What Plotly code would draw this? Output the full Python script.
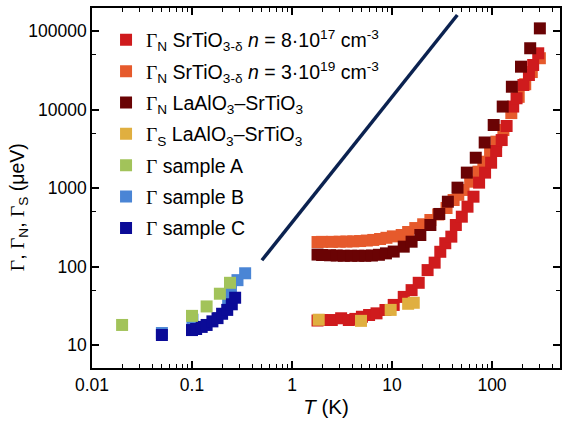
import plotly.graph_objects as go

# ---- data ----
T_red = [1.8, 2.0, 2.5, 3.1, 3.7, 4.3, 5.0, 5.9, 7.0, 8.6, 10.4, 13.1, 15.7, 18.5, 22.7, 26.7, 30.4, 34.1, 39.2, 43.5, 49.9, 56.9, 65.3, 74.3, 85.3, 98, 110, 125, 140, 163, 176, 206, 234, 258, 290]
G_red = [20.5, 20.8, 20.8, 21.9, 20.8, 21.5, 22.9, 24.1, 25.3, 27.9, 32.4, 41, 50, 62, 90, 112, 154, 198, 240, 338, 431, 578, 775, 1170, 1570, 2100, 2960, 4080, 6160, 10900, 13900, 20500, 27500, 36900, 52000]

T_orange = [1.8, 2.0, 2.5, 3.0, 3.5, 4.1, 4.8, 5.6, 6.5, 7.6, 8.8, 10.2, 12.5, 14.5, 17.1, 20.5, 24.2, 29, 35.1, 41.3, 46, 51.9, 60.5, 73.2, 82, 95.7, 110.7, 130, 156, 185, 215, 250, 301]
G_orange = [205, 206, 206, 207, 208, 209, 211, 214, 218, 224, 232, 242, 252, 275, 309, 345, 391, 460, 556, 703, 820, 944, 1203, 1614, 2163, 2900, 3890, 5480, 9000, 14500, 21000, 30000, 45000]

T_lao_n = [1.8, 2.0, 2.4, 2.8, 3.3, 3.9, 4.6, 5.4, 6.3, 7.4, 8.7, 10.4, 13.1, 15.7, 19.2, 24.2, 29.7, 36.2, 45.2, 56, 68.8, 84.5, 104, 128, 158, 195, 241, 301]
G_lao_n = [142, 140, 139, 138, 137, 137, 137, 137, 138, 141, 147, 155, 179, 207, 252, 338, 467, 669, 1010, 1570, 2430, 3800, 6350, 10900, 19500, 35100, 60300, 108000]

T_lao_s = [1.85, 4.9, 9.7, 14.5, 16.5]
G_lao_s = [21, 20.3, 28, 33.5, 34.5]

T_A = [0.02, 0.1, 0.14, 0.19, 0.24]
G_A = [18, 23.5, 31, 45, 62]
T_B = [0.05, 0.101, 0.23, 0.245, 0.285, 0.34]
G_B = [14.2, 21, 38, 50, 67, 82]
T_C = [0.05, 0.1, 0.11, 0.125, 0.14, 0.16, 0.18, 0.2, 0.225, 0.25, 0.27]
G_C = [13.4, 15.5, 16, 17, 18, 20, 22, 25, 28, 33, 40]

T_line = [0.5, 45]
G_line = [120, 160000]

x_ticks = [0.01, 0.1, 1, 10, 100]
x_ticktext = ["0.01", "0.1", "1", "10", "100"]
y_ticks = [10, 100, 1000, 10000, 100000]
y_ticktext = ["10", "100", "1000", "10000", "100000"]

# ---- style ----
SANS = "Liberation Sans, Arial, sans-serif"
G = '<span style="font-family:Liberation Serif">Γ</span>'

names = {
    "red": G + "<sub>N</sub> SrTiO<sub>3-δ</sub> <i>n</i> = 8·10<sup>17</sup> cm<sup>-3</sup>",
    "orange": G + "<sub>N</sub> SrTiO<sub>3-δ</sub> <i>n</i> = 3·10<sup>19</sup> cm<sup>-3</sup>",
    "lao_n": G + "<sub>N</sub> LaAlO<sub>3</sub>–SrTiO<sub>3</sub>",
    "lao_s": G + "<sub>S</sub> LaAlO<sub>3</sub>–SrTiO<sub>3</sub>",
    "A": G + " sample A",
    "B": G + " sample B",
    "C": G + " sample C",
}
colors = {
    "red": "#cf1b1d",
    "orange": "#e65a2c",
    "lao_n": "#6a0304",
    "lao_s": "#e0af40",
    "A": "#a2c35a",
    "B": "#4a85d5",
    "C": "#0b0b97",
}
rank = {"red": 1, "orange": 2, "lao_n": 3, "lao_s": 4, "A": 5, "B": 6, "C": 7}

# draw order (z-order) differs from legend order
series = [
    ("orange", T_orange, G_orange),
    ("red", T_red, G_red),
    ("lao_n", T_lao_n, G_lao_n),
    ("lao_s", T_lao_s, G_lao_s),
    ("B", T_B, G_B),
    ("C", T_C, G_C),
    ("A", T_A, G_A),
]

fig = go.Figure()
fig.add_trace(go.Scatter(x=T_line, y=G_line, mode="lines",
                         line=dict(color="#0b2250", width=3.5),
                         showlegend=False, hoverinfo="skip"))
for key, xs, ys in series:
    fig.add_trace(go.Scatter(
        x=xs, y=ys, mode="markers", name=names[key],
        legendrank=rank[key], legendgroup=key,
        marker=dict(symbol="square", size=12, color=colors[key], line=dict(width=0)),
    ))

x_minor = [m * 10 ** e for e in range(-2, 3) for m in range(2, 10)]
y_minor = [5 * 10 ** e for e in range(0, 6)]

axis_common = dict(
    type="log", showgrid=False, zeroline=False,
    showline=True, linecolor="black", linewidth=1.5, mirror="allticks",
    ticks="inside", ticklen=7, tickwidth=1.5, tickcolor="black",
    tickfont=dict(family=SANS, size=17.5, color="black"),
)

fig.update_xaxes(
    **axis_common, range=[-2, 2.68],
    tickmode="array", tickvals=x_ticks, ticktext=x_ticktext,
    minor=dict(tickmode="array", tickvals=x_minor, ticks="inside", ticklen=4,
               tickwidth=1.2, tickcolor="black", showgrid=False),
    title=dict(text="<i>T</i> (K)", font=dict(family=SANS, size=20.5, color="black"), standoff=6),
)
fig.update_yaxes(
    **axis_common, range=[0.707, 5.293],
    tickmode="array", tickvals=y_ticks, ticktext=y_ticktext,
    minor=dict(tickmode="array", tickvals=y_minor, ticks="inside", ticklen=4,
               tickwidth=1.2, tickcolor="black", showgrid=False),
)

fig.add_annotation(
    text=G + ", " + G + "<sub>N</sub>, " + G + "<sub>S</sub> (μeV)",
    xref="paper", yref="paper", x=-0.158, y=0.447,
    xanchor="center", yanchor="middle", textangle=-90, showarrow=False,
    font=dict(family=SANS, size=19.5, color="black"),
)

fig.update_layout(
    width=562, height=426,
    margin=dict(l=92, r=0, t=8, b=58),
    paper_bgcolor="white", plot_bgcolor="white",
    font=dict(family=SANS, size=19.5, color="black"),
    showlegend=True,
    legend=dict(x=0.03, y=0.965, xanchor="left", yanchor="top",
                bgcolor="rgba(0,0,0,0)", borderwidth=0,
                traceorder="grouped", tracegroupgap=3,
                font=dict(family=SANS, size=19.5, color="black")),
)

fig.write_html("out.html")
